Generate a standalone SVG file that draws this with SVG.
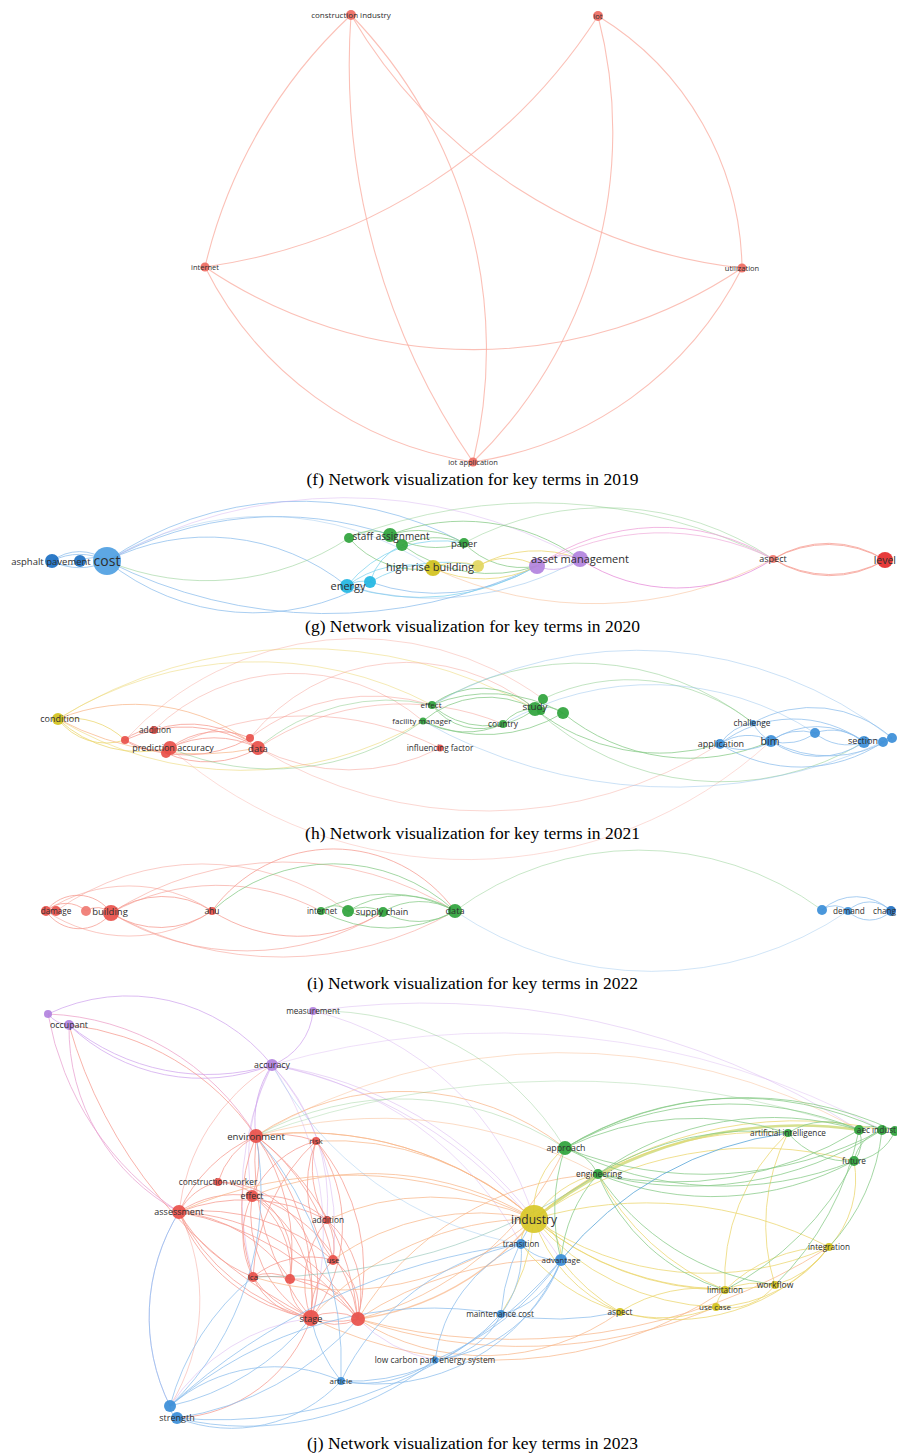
<svg xmlns="http://www.w3.org/2000/svg" width="897" height="1455" viewBox="0 0 897 1455">
<style>
.bg{fill:#fff}
.e{fill:none;stroke-width:1;stroke-opacity:.75}
.er{stroke:#f59a8f}.eg{stroke:#86c986}.eb{stroke:#8cbdec}.ey{stroke:#ebd66c}.ep{stroke:#d0a6ee}.ec{stroke:#7fd3ee}.eo{stroke:#f8b88c}.ef{stroke:#f9ab9f;stroke-width:1.1}
.nr{fill:#e8504a}.ng{fill:#2fa33c}.nb{fill:#3b8ed8}.ny{fill:#d3c21c}.np{fill:#b282de}.nc{fill:#22b6e2}.nd{fill:#1b6fc2}.nl{fill:#4f9fe2}.nf{fill:#ee6b62}
circle{fill-opacity:.92}
text{font-family:'Open Sans','DejaVu Sans',sans-serif;fill:#2e2e2e;text-anchor:middle}
.cap{font-family:'Liberation Serif','Times New Roman',serif;font-size:17.5px;fill:#000}
.end{text-anchor:end}
</style>
<rect class="bg" x="0" y="0" width="897" height="1455"/>

<!-- ============ PANEL F ============ -->
<g id="edges-f" class="e ef">
<path d="M205,267 A480,480 0 0 0 742,268"/>
<path d="M351,15 A500,500 0 0 0 205,267"/>
<path d="M351,15 A520,520 0 0 0 742,268"/>
<path d="M351,15 A480,480 0 0 1 473,462"/>
<path d="M351,15 A700,700 0 0 0 473,462"/>
<path d="M598,16 A560,560 0 0 1 205,267"/>
<path d="M598,16 A300,300 0 0 1 742,268"/>
<path d="M598,16 A460,460 0 0 1 473,462"/>
<path d="M205,267 A360,360 0 0 0 473,462"/>
<path d="M742,268 A360,360 0 0 1 473,462"/>
</g>
<g id="f-construction-industry"><circle class="nf" cx="351" cy="15" r="5"/><text x="351" y="18" font-size="8">construction industry</text></g>
<g id="f-iot"><circle class="nf" cx="598" cy="16" r="5"/><text x="598" y="19" font-size="7.5">iot</text></g>
<g id="f-internet"><circle class="nf" cx="205" cy="267" r="4.5"/><text x="205" y="270" font-size="7.5">internet</text></g>
<g id="f-utilization"><circle class="nf" cx="742" cy="268" r="4.5"/><text x="742" y="271" font-size="7.5">utilization</text></g>
<g id="f-iot-application"><circle class="nf" cx="473" cy="462" r="4.5"/><text x="473" y="465" font-size="7.5">iot application</text></g>
<text class="cap" x="472.5" y="484.5">(f) Network visualization for key terms in 2019</text>

<!-- ============ PANEL G ============ -->
<g id="edges-g" class="e">
<path class="eb" d="M52,561 A60,60 0 0 1 107,561"/>
<path class="eb" d="M52,561 A60,60 0 0 0 107,561"/>
<path class="eb" d="M52,561 A45,45 0 0 1 107,561"/>
<path class="eb" d="M80,561 A30,30 0 0 1 107,561"/>
<path class="eb" d="M52,561 A25,25 0 0 0 80,561"/>
<path class="eb" d="M107,561 A223,223 0 0 1 347,586"/>
<path class="eb" d="M107,561 A234,234 0 0 0 370,582"/>
<path class="eb" d="M107,561 A487,487 0 0 0 537,566"/>
<path class="eb" d="M107,561 A342,342 0 0 1 464,543"/>
<path class="eb" d="M107,561 A351,351 0 0 1 390,535"/>
<path class="ep" d="M107,561 A480,480 0 0 1 580,559" stroke-opacity=".4"/>
<path class="eb" d="M107,561 A300,300 0 0 1 433,568" stroke-opacity=".4"/>
<path class="eg" d="M107,561 A260,260 0 0 0 349,538" stroke-opacity=".5"/>
<path class="ec" d="M347,586 A100,100 0 0 1 433,568"/>
<path class="ec" d="M370,582 A60,60 0 0 1 402,545"/>
<path class="ec" d="M347,586 A120,120 0 0 1 464,543"/>
<path class="eb" d="M370,582 A200,200 0 0 0 537,566"/>
<path class="ec" d="M347,586 A236,236 0 0 0 537,566"/>
<path class="ec" d="M370,582 A150,150 0 0 1 478,566"/>
<path class="ec" d="M347,586 A30,30 0 0 1 370,582"/>
<path class="eb" d="M347,586 A300,300 0 0 0 580,559" stroke-opacity=".5"/>
<path class="eg" d="M349,538 A40,40 0 0 1 390,535"/>
<path class="eg" d="M390,535 A90,90 0 0 1 464,543"/>
<path class="eg" d="M390,535 A90,90 0 0 0 464,543"/>
<path class="eg" d="M402,545 A80,80 0 0 1 464,543"/>
<path class="eg" d="M402,545 A150,150 0 0 0 537,566"/>
<path class="eg" d="M349,538 A522,522 0 0 1 773,559" stroke-opacity=".45"/>
<path class="eg" d="M464,543 A80,80 0 0 0 537,566"/>
<path class="eg" d="M390,535 A200,200 0 0 1 580,559"/>
<path class="eg" d="M464,543 A300,300 0 0 1 773,559" stroke-opacity=".45"/>
<path class="eg" d="M349,538 A90,90 0 0 0 433,568"/>
<path class="ey" d="M433,568 A60,60 0 0 1 478,566"/>
<path class="ey" d="M478,566 A60,60 0 0 1 537,566"/>
<path class="eo" d="M433,568 A381,381 0 0 0 773,559" stroke-opacity=".5"/>
<path class="ey" d="M478,566 A120,120 0 0 1 580,559"/>
<path class="ey" d="M433,568 A120,120 0 0 0 537,566"/>
<path class="ep" d="M537,566 A40,40 0 0 1 580,559"/>
<path class="ep" d="M537,566 A40,40 0 0 0 580,559"/>
<path class="ep" d="M580,559 A175,175 0 0 0 773,559" style="stroke:#e58ad8"/>
<path class="ep" d="M537,566 A216,216 0 0 1 773,559" style="stroke:#eda0d8"/>
<path class="ep" d="M537,566 A250,250 0 0 1 773,559" style="stroke:#f0b0dc"/>
<path class="er" d="M773,559 A112,112 0 0 1 885,560"/>
<path class="er" d="M773,559 A105,105 0 0 1 885,560"/>
<path class="er" d="M773,559 A112,112 0 0 0 885,560"/>
<path class="er" d="M773,559 A105,105 0 0 0 885,560"/>
</g>
<g id="g-asphalt-pavement"><circle class="nd" cx="52" cy="561" r="7"/><circle class="nd" cx="80" cy="561" r="6"/><text x="51" y="564.5" font-size="9.5">asphalt pavement</text></g>
<g id="g-cost"><circle class="nl" cx="107" cy="561" r="14"/><text x="107" y="566" font-size="14">cost</text></g>
<g id="g-staff-assignment"><circle class="ng" cx="349" cy="538" r="5"/><circle class="ng" cx="390" cy="535" r="7"/><circle class="ng" cx="402" cy="545" r="6"/><text x="391" y="539.5" font-size="10">staff assignment</text></g>
<g id="g-paper"><circle class="ng" cx="464" cy="543" r="5"/><text x="464" y="546.5" font-size="9.5">paper</text></g>
<g id="g-high-rise-building"><circle class="ny" cx="433" cy="568" r="8"/><circle class="ny" cx="478" cy="566" r="6" style="fill:#e2d660"/><text x="430" y="571" font-size="11">high rise building</text></g>
<g id="g-energy"><circle class="nc" cx="347" cy="586" r="7"/><circle class="nc" cx="370" cy="582" r="6"/><text x="348" y="590" font-size="11">energy</text></g>
<g id="g-asset-management"><circle class="np" cx="537" cy="566" r="8"/><circle class="np" cx="580" cy="559" r="8"/><text x="580" y="563" font-size="11">asset management</text></g>
<g id="g-aspect"><circle class="nr" cx="773" cy="559" r="4" style="fill:#f07a70"/><text x="773" y="562" font-size="9">aspect</text></g>
<g id="g-level"><circle class="nr" cx="885" cy="560" r="8" style="fill:#e42a2a"/><text class="end" x="896" y="564" font-size="10.5">level</text></g>
<text class="cap" x="472.5" y="631.5">(g) Network visualization for key terms in 2020</text>

<!-- ============ PANEL H ============ -->
<g id="edges-h" class="e">
<path class="ey" d="M58,719 A60,60 0 0 0 125,740"/>
<path class="ey" d="M58,719 A80,80 0 0 1 125,740"/>
<path class="ey" d="M58,719 A120,120 0 0 0 170,748"/>
<path class="eo" d="M58,719 A200,200 0 0 1 258,748"/>
<path class="ey" d="M58,719 A468,468 0 0 1 535,709" stroke-opacity=".5"/>
<path class="ey" d="M58,719 A375,375 0 0 1 432,705" stroke-opacity=".5"/>
<path class="ey" d="M58,719 A356,356 0 0 0 423,721" stroke-opacity=".55"/>
<path class="eo" d="M58,719 A300,300 0 0 0 258,748"/>
<path class="er" d="M125,740 A40,40 0 0 1 154,730"/>
<path class="er" d="M125,740 A50,50 0 0 0 170,748"/>
<path class="er" d="M154,730 A110,110 0 0 1 258,748"/>
<path class="er" d="M170,748 A100,100 0 0 1 258,748"/>
<path class="er" d="M170,748 A80,80 0 0 1 250,738"/>
<path class="er" d="M166,753 A100,100 0 0 0 258,748"/>
<path class="er" d="M125,740 A140,140 0 0 1 258,748"/>
<path class="er" d="M125,740 A130,130 0 0 0 250,738"/>
<path class="er" d="M170,748 A300,300 0 0 1 440,748" stroke-opacity=".5"/>
<path class="er" d="M258,748 A200,200 0 0 0 440,748" stroke-opacity=".5"/>
<path class="er" d="M250,738 A200,200 0 0 1 432,705" stroke-opacity=".5"/>
<path class="er" d="M258,748 A260,260 0 0 1 503,724" stroke-opacity=".5"/>
<path class="er" d="M250,738 A200,200 0 0 1 535,709" stroke-opacity=".45"/>
<path class="er" d="M125,740 A316,316 0 0 1 543,699" stroke-opacity=".4"/>
<path class="er" d="M258,748 A443,443 0 0 0 720,744" stroke-opacity=".4"/>
<path class="er" d="M170,748 A450,450 0 0 0 771,741" stroke-opacity=".35"/>
<path class="er" d="M154,730 A200,200 0 0 1 423,721" stroke-opacity=".45"/>
<path class="eg" d="M432,705 A80,80 0 0 1 535,709"/>
<path class="eg" d="M432,705 A80,80 0 0 0 535,709"/>
<path class="eg" d="M423,721 A100,100 0 0 1 535,709"/>
<path class="eg" d="M423,721 A90,90 0 0 0 503,724"/>
<path class="eg" d="M503,724 A40,40 0 0 1 535,709"/>
<path class="eg" d="M535,709 A30,30 0 0 1 563,713"/>
<path class="eg" d="M432,705 A150,150 0 0 1 563,713"/>
<path class="eg" d="M423,721 A150,150 0 0 0 563,713"/>
<path class="eg" d="M535,709 A200,200 0 0 0 720,744"/>
<path class="eg" d="M563,713 A200,200 0 0 0 771,741"/>
<path class="eg" d="M535,709 A275,275 0 0 0 864,742" stroke-opacity=".5"/>
<path class="eg" d="M432,705 A281,281 0 0 1 753,723" stroke-opacity=".5"/>
<path class="eg" d="M258,748 A200,200 0 0 1 432,705" stroke-opacity=".5"/>
<path class="eg" d="M170,748 A260,260 0 0 0 423,721" stroke-opacity=".5"/>
<path class="eg" d="M543,699 A200,200 0 0 1 753,723" stroke-opacity=".5"/>
<path class="eg" d="M432,705 A60,60 0 0 0 503,724"/>
<path class="eb" d="M720,744 A50,50 0 0 1 753,723"/>
<path class="eb" d="M720,744 A50,50 0 0 1 771,741"/>
<path class="eb" d="M720,744 A50,50 0 0 0 771,741"/>
<path class="eb" d="M753,723 A40,40 0 0 0 771,741"/>
<path class="eb" d="M771,741 A50,50 0 0 1 815,733"/>
<path class="eb" d="M771,741 A50,50 0 0 0 815,733"/>
<path class="eb" d="M815,733 A50,50 0 0 1 864,742"/>
<path class="eb" d="M815,733 A50,50 0 0 0 864,742"/>
<path class="eb" d="M771,741 A80,80 0 0 1 864,742"/>
<path class="eb" d="M771,741 A80,80 0 0 0 864,742"/>
<path class="eb" d="M864,742 A20,20 0 0 1 883,742"/>
<path class="eb" d="M883,742 A10,10 0 0 1 892,738"/>
<path class="eb" d="M720,744 A150,150 0 0 0 883,742"/>
<path class="eb" d="M753,723 A120,120 0 0 1 892,738"/>
<path class="eb" d="M771,741 A120,120 0 0 0 892,738"/>
<path class="eb" d="M720,744 A120,120 0 0 1 864,742"/>
<path class="eb" d="M432,705 A413,413 0 0 1 892,738" stroke-opacity=".45"/>
<path class="eb" d="M423,721 A508,508 0 0 0 883,742" stroke-opacity=".45"/>
<path class="eb" d="M503,724 A300,300 0 0 1 815,733" stroke-opacity=".45"/>
</g>
<g id="h-condition"><circle class="ny" cx="58" cy="719" r="6"/><text x="60" y="722" font-size="9">condition</text></g>
<g id="h-addition"><circle class="nr" cx="154" cy="730" r="4"/><circle class="nr" cx="125" cy="740" r="4"/><text x="155" y="732.5" font-size="8.3">addition</text></g>
<g id="h-prediction-accuracy"><circle class="nr" cx="170" cy="748" r="7"/><circle class="nr" cx="166" cy="753" r="5"/><text x="173" y="751" font-size="9">prediction accuracy</text></g>
<g id="h-data"><circle class="nr" cx="250" cy="738" r="4"/><circle class="nr" cx="258" cy="748" r="7"/><text x="258" y="751.5" font-size="9.5">data</text></g>
<g id="h-effect"><circle class="ng" cx="432" cy="705" r="4"/><text x="431" y="707.5" font-size="8">effect</text></g>
<g id="h-facility-manager"><circle class="ng" cx="423" cy="721" r="3.5"/><text x="422" y="723.5" font-size="8">facility manager</text></g>
<g id="h-influencing-factor"><circle class="nr" cx="440" cy="748" r="3.5"/><text x="440" y="750.5" font-size="8.2">influencing factor</text></g>
<g id="h-country"><circle class="ng" cx="503" cy="724" r="4"/><text x="503" y="727" font-size="8.4">country</text></g>
<g id="h-study"><circle class="ng" cx="543" cy="699" r="5"/><circle class="ng" cx="535" cy="709" r="7"/><circle class="ng" cx="541" cy="711" r="4"/><text x="535" y="710" font-size="9.8">study</text></g>
<g id="h-node-g5"><circle class="ng" cx="563" cy="713" r="6"/></g>
<g id="h-challenge"><circle class="nb" cx="753" cy="723" r="3"/><text x="752" y="725.5" font-size="8.3">challenge</text></g>
<g id="h-application"><circle class="nb" cx="720" cy="744" r="5"/><text x="721" y="747" font-size="9">application</text></g>
<g id="h-bim"><circle class="nb" cx="771" cy="741" r="6"/><text x="770" y="744.5" font-size="10.5">bim</text></g>
<g id="h-node-b4"><circle class="nb" cx="815" cy="733" r="5"/></g>
<g id="h-section"><circle class="nb" cx="864" cy="742" r="6"/><circle class="nb" cx="883" cy="742" r="5"/><circle class="nb" cx="892" cy="738" r="5"/><text x="863" y="743.5" font-size="9">section</text></g>
<text class="cap" x="472.5" y="838.5">(h) Network visualization for key terms in 2021</text>

<!-- ============ PANEL I ============ -->
<g id="edges-i" class="e">
<path class="er" d="M46,911 A30,30 0 0 1 86,911"/>
<path class="er" d="M46,911 A40,40 0 0 1 111,913"/>
<path class="er" d="M46,911 A40,40 0 0 0 111,913"/>
<path class="er" d="M86,911 A20,20 0 0 1 111,913"/>
<path class="er" d="M111,913 A90,90 0 0 1 212,911"/>
<path class="er" d="M111,913 A90,90 0 0 0 212,911"/>
<path class="er" d="M111,913 A321,321 0 0 1 455,911" stroke-opacity=".55"/>
<path class="er" d="M111,913 A351,351 0 0 0 455,911" stroke-opacity=".55"/>
<path class="er" d="M111,913 A220,220 0 0 1 321,911" stroke-opacity=".6"/>
<path class="er" d="M111,913 A260,260 0 0 0 383,912" stroke-opacity=".6"/>
<path class="er" d="M212,911 A150,150 0 0 1 455,911"/>
<path class="er" d="M212,911 A160,160 0 0 0 383,912"/>
<path class="er" d="M46,911 A150,150 0 0 1 212,911" stroke-opacity=".55"/>
<path class="er" d="M46,911 A150,150 0 0 0 212,911" stroke-opacity=".55"/>
<path class="er" d="M56,911 A250,250 0 0 1 348,911" stroke-opacity=".5"/>
<path class="eg" d="M321,911 A20,20 0 0 1 348,911"/>
<path class="eg" d="M348,911 A40,40 0 0 1 383,912"/>
<path class="eg" d="M348,911 A40,40 0 0 0 383,912"/>
<path class="eg" d="M383,912 A70,70 0 0 1 455,911"/>
<path class="eg" d="M383,912 A70,70 0 0 0 455,911"/>
<path class="eg" d="M321,911 A140,140 0 0 1 455,911"/>
<path class="eg" d="M321,911 A140,140 0 0 0 455,911"/>
<path class="eg" d="M348,911 A100,100 0 0 1 455,911"/>
<path class="eg" d="M212,911 A180,180 0 0 1 455,911"/>
<path class="eg" d="M455,911 A309,309 0 0 1 822,910" stroke-opacity=".45"/>
<path class="eb" d="M455,911 A350,350 0 0 0 848,911" stroke-opacity=".4"/>
<path class="eb" d="M822,910 A20,20 0 0 1 848,911"/>
<path class="eb" d="M848,911 A30,30 0 0 1 891,911"/>
<path class="eb" d="M848,911 A30,30 0 0 0 891,911"/>
<path class="eb" d="M822,910 A50,50 0 0 1 891,911"/>
</g>
<g id="i-damage"><circle class="nr" cx="46" cy="911" r="5"/><circle class="nr" cx="56" cy="911" r="5"/><text x="56" y="914" font-size="8.2">damage</text></g>
<g id="i-building"><circle class="nr" cx="86" cy="911" r="5" style="fill:#f07a72"/><circle class="nr" cx="111" cy="913" r="8"/><text x="110" y="915" font-size="9.5">building</text></g>
<g id="i-ahu"><circle class="nr" cx="212" cy="911" r="4"/><text x="212" y="914" font-size="8.4">ahu</text></g>
<g id="i-internet"><circle class="ng" cx="321" cy="911" r="4"/><text x="322" y="914" font-size="8.1">internet</text></g>
<g id="i-supply-chain"><circle class="ng" cx="348" cy="911" r="6"/><circle class="ng" cx="383" cy="912" r="5"/><text x="382" y="915" font-size="9">supply chain</text></g>
<g id="i-data"><circle class="ng" cx="455" cy="911" r="7"/><text x="455" y="914" font-size="9.1">data</text></g>
<g id="i-node-b1"><circle class="nb" cx="822" cy="910" r="5"/></g>
<g id="i-demand"><circle class="nb" cx="848" cy="911" r="4"/><text x="849" y="914" font-size="8.2">demand</text></g>
<g id="i-change"><circle class="nb" cx="891" cy="911" r="5" style="fill:#1f6fc0"/><text class="end" x="896" y="914" font-size="8.2">chang</text></g>
<text class="cap" x="472.5" y="988.5">(i) Network visualization for key terms in 2022</text>

<!-- ============ PANEL J ============ -->
<g id="edges-j" class="e" stroke-opacity=".6">
<path class="ep" d="M48,1014 A185,185 0 0 1 272,1065"/>
<path class="ep" d="M69,1025 A192,192 0 0 0 272,1065"/>
<path class="ep" d="M69,1025 A220,220 0 0 0 272,1065"/>
<path class="ep" d="M48,1014 A30,30 0 0 0 69,1025"/>
<path class="ep" d="M48,1014 A255,255 0 0 1 256,1136" style="stroke:#eca0c8"/>
<path class="er" d="M69,1025 A260,260 0 0 1 256,1136"/>
<path class="ep" d="M69,1025 A209,209 0 0 0 179,1212" style="stroke:#e8a0d0"/>
<path class="er" d="M69,1025 A471,471 0 0 0 311,1318"/>
<path class="ep" d="M48,1014 A300,300 0 0 0 179,1212" style="stroke:#e8a0d0"/>
<path class="ep" d="M313,1011 A63,63 0 0 1 272,1065"/>
<path class="ep" d="M313,1011 A803,803 0 0 1 859,1130" stroke-opacity=".4"/>
<path class="ep" d="M313,1011 A305,305 0 0 1 534,1219" stroke-opacity=".4"/>
<path class="ep" d="M272,1065 A100,100 0 0 0 256,1136"/>
<path class="ep" d="M272,1065 A200,200 0 0 0 252,1196" stroke-opacity=".45"/>
<path class="ep" d="M272,1065 A200,200 0 0 1 327,1220" stroke-opacity=".45"/>
<path class="ep" d="M272,1065 A250,250 0 0 1 333,1260" stroke-opacity=".45"/>
<path class="ep" d="M272,1065 A300,300 0 0 0 253,1277" stroke-opacity=".45"/>
<path class="ep" d="M272,1065 A450,450 0 0 1 561,1260" stroke-opacity=".45"/>
<path class="ep" d="M272,1065 A810,810 0 0 1 882,1130" stroke-opacity=".35"/>
<path class="ep" d="M272,1065 A400,400 0 0 1 534,1219" stroke-opacity=".45"/>
<path class="ep" d="M272,1065 A300,300 0 0 1 311,1318" stroke-opacity=".4"/>
<path class="ep" d="M272,1065 A350,350 0 0 1 521,1244" stroke-opacity=".4"/>
<path class="er" d="M272,1065 A199,199 0 0 0 179,1212" stroke-opacity=".5"/>
<path class="er" d="M256,1136 A150,150 0 0 0 179,1212"/>
<path class="er" d="M256,1136 A80,80 0 0 0 218,1182"/>
<path class="er" d="M256,1136 A100,100 0 0 1 252,1196"/>
<path class="er" d="M256,1136 A250,250 0 0 0 311,1318"/>
<path class="er" d="M256,1136 A250,250 0 0 1 311,1318"/>
<path class="er" d="M256,1136 A200,200 0 0 0 253,1277"/>
<path class="er" d="M256,1136 A200,200 0 0 1 290,1279"/>
<path class="er" d="M256,1136 A200,200 0 0 1 333,1260"/>
<path class="er" d="M256,1136 A260,260 0 0 1 358,1319"/>
<path class="eo" d="M256,1136 A350,350 0 0 1 534,1219"/>
<path class="eo" d="M256,1136 A262,262 0 0 1 565,1148"/>
<path class="eo" d="M256,1136 A606,606 0 0 1 859,1130" stroke-opacity=".45"/>
<path class="eo" d="M256,1136 A450,450 0 0 1 598,1174" stroke-opacity=".5"/>
<path class="er" d="M256,1136 A120,120 0 0 1 316,1141"/>
<path class="er" d="M179,1212 A60,60 0 0 1 218,1182"/>
<path class="er" d="M179,1212 A100,100 0 0 1 252,1196"/>
<path class="er" d="M179,1212 A150,150 0 0 0 253,1277"/>
<path class="er" d="M179,1212 A150,150 0 0 1 290,1279"/>
<path class="er" d="M179,1212 A200,200 0 0 0 311,1318"/>
<path class="er" d="M179,1212 A170,170 0 0 0 311,1318"/>
<path class="er" d="M179,1212 A220,220 0 0 1 358,1319"/>
<path class="er" d="M179,1212 A200,200 0 0 1 333,1260"/>
<path class="er" d="M179,1212 A180,180 0 0 1 327,1220"/>
<path class="er" d="M179,1212 A200,200 0 0 1 170,1406" stroke-opacity=".45"/>
<path class="ep" d="M179,1212 A200,200 0 0 0 170,1406" stroke-opacity=".45"/>
<path class="er" d="M179,1212 A300,300 0 0 1 358,1319"/>
<path class="er" d="M316,1141 A100,100 0 0 0 327,1220"/>
<path class="er" d="M316,1141 A150,150 0 0 1 311,1318"/>
<path class="er" d="M316,1141 A120,120 0 0 0 333,1260"/>
<path class="eo" d="M316,1141 A300,300 0 0 1 534,1219"/>
<path class="er" d="M316,1141 A100,100 0 0 0 252,1196"/>
<path class="er" d="M316,1141 A200,200 0 0 0 253,1277"/>
<path class="er" d="M316,1141 A200,200 0 0 1 358,1319"/>
<path class="er" d="M252,1196 A120,120 0 0 1 311,1318"/>
<path class="er" d="M252,1196 A120,120 0 0 0 311,1318"/>
<path class="er" d="M252,1196 A90,90 0 0 1 290,1279"/>
<path class="er" d="M252,1196 A90,90 0 0 0 253,1277"/>
<path class="er" d="M252,1196 A100,100 0 0 1 327,1220"/>
<path class="eo" d="M252,1196 A320,320 0 0 1 534,1219"/>
<path class="er" d="M252,1196 A150,150 0 0 1 358,1319"/>
<path class="er" d="M218,1182 A100,100 0 0 1 311,1318"/>
<path class="er" d="M218,1182 A80,80 0 0 1 290,1279"/>
<path class="er" d="M327,1220 A60,60 0 0 1 333,1260"/>
<path class="er" d="M327,1220 A100,100 0 0 0 311,1318"/>
<path class="er" d="M327,1220 A100,100 0 0 1 358,1319"/>
<path class="eo" d="M327,1220 A250,250 0 0 1 534,1219"/>
<path class="er" d="M333,1260 A80,80 0 0 0 311,1318"/>
<path class="er" d="M333,1260 A60,60 0 0 1 358,1319"/>
<path class="er" d="M333,1260 A90,90 0 0 0 253,1277"/>
<path class="eo" d="M333,1260 A250,250 0 0 1 534,1219"/>
<path class="er" d="M253,1277 A40,40 0 0 1 290,1279"/>
<path class="er" d="M253,1277 A70,70 0 0 0 311,1318"/>
<path class="er" d="M253,1277 A100,100 0 0 0 358,1319"/>
<path class="er" d="M253,1277 A120,120 0 0 1 358,1319"/>
<path class="er" d="M290,1279 A40,40 0 0 0 311,1318"/>
<path class="er" d="M290,1279 A70,70 0 0 1 358,1319"/>
<path class="er" d="M311,1318 A50,50 0 0 1 358,1319"/>
<path class="er" d="M311,1318 A50,50 0 0 0 358,1319"/>
<path class="er" d="M311,1318 A150,150 0 0 1 177,1418"/>
<path class="ep" d="M311,1318 A200,200 0 0 0 170,1406" stroke-opacity=".45"/>
<path class="eo" d="M311,1318 A417,417 0 0 0 725,1290"/>
<path class="eo" d="M311,1318 A300,300 0 0 1 534,1219"/>
<path class="eo" d="M358,1319 A234,234 0 0 0 620,1312"/>
<path class="eo" d="M358,1319 A265,265 0 0 0 534,1219" stroke-width="1.4"/>
<path class="eo" d="M358,1319 A591,591 0 0 0 829,1247"/>
<path class="eo" d="M358,1319 A314,314 0 0 0 565,1148"/>
<path class="ep" d="M358,1319 A150,150 0 0 0 435,1360" stroke-opacity=".45"/>
<path class="eo" d="M358,1319 A350,350 0 0 1 561,1260"/>
<path class="eo" d="M358,1319 A500,500 0 0 0 716,1307"/>
<path class="eo" d="M358,1319 A300,300 0 0 1 598,1174"/>
<path class="ey" d="M534,1219 A80,80 0 0 1 565,1148"/>
<path class="ey" d="M534,1219 A100,100 0 0 1 598,1174"/>
<path class="ey" d="M534,1219 A421,421 0 0 1 859,1130" stroke-width="2.5" style="stroke:#c8d66a"/>
<path class="ey" d="M534,1219 A400,400 0 0 1 882,1130"/>
<path class="ey" d="M534,1219 A380,380 0 0 1 854,1161"/>
<path class="ey" d="M534,1219 A350,350 0 0 1 788,1133"/>
<path class="ey" d="M534,1219 A400,400 0 0 1 829,1247"/>
<path class="ey" d="M534,1219 A300,300 0 0 0 725,1290"/>
<path class="ey" d="M534,1219 A300,300 0 0 0 775,1285"/>
<path class="ey" d="M534,1219 A250,250 0 0 0 716,1307"/>
<path class="ey" d="M534,1219 A150,150 0 0 0 620,1312"/>
<path class="ey" d="M534,1219 A30,30 0 0 0 521,1244"/>
<path class="ey" d="M534,1219 A40,40 0 0 1 561,1260"/>
<path class="eo" d="M534,1219 A411,411 0 0 0 179,1212"/>
<path class="eo" d="M534,1219 A300,300 0 0 1 253,1277"/>
<path class="eo" d="M534,1219 A350,350 0 0 0 256,1136"/>
<path class="ey" d="M534,1219 A200,200 0 0 1 501,1314"/>
<path class="ey" d="M534,1219 A300,300 0 0 0 829,1247"/>
<path class="ey" d="M620,1312 A150,150 0 0 1 725,1290"/>
<path class="ey" d="M620,1312 A150,150 0 0 0 716,1307"/>
<path class="ey" d="M620,1312 A200,200 0 0 0 829,1247"/>
<path class="ey" d="M716,1307 A30,30 0 0 1 725,1290"/>
<path class="ey" d="M716,1307 A60,60 0 0 0 775,1285"/>
<path class="ey" d="M725,1290 A80,80 0 0 1 775,1285"/>
<path class="ey" d="M775,1285 A100,100 0 0 0 829,1247"/>
<path class="ey" d="M725,1290 A150,150 0 0 1 829,1247"/>
<path class="ey" d="M716,1307 A150,150 0 0 0 829,1247"/>
<path class="ey" d="M829,1247 A100,100 0 0 0 854,1161"/>
<path class="ey" d="M775,1285 A200,200 0 0 1 788,1133"/>
<path class="ey" d="M725,1290 A200,200 0 0 1 788,1133"/>
<path class="ey" d="M620,1312 A200,200 0 0 1 561,1260"/>
<path class="ey" d="M620,1312 A200,200 0 0 1 521,1244"/>
<path class="ey" d="M725,1290 A250,250 0 0 1 598,1174"/>
<path class="eg" d="M565,1148 A50,50 0 0 1 598,1174"/>
<path class="eg" d="M565,1148 A300,300 0 0 1 788,1133"/>
<path class="eg" d="M565,1148 A332,332 0 0 1 882,1130"/>
<path class="eg" d="M565,1148 A332,332 0 0 1 859,1130"/>
<path class="eg" d="M565,1148 A350,350 0 0 1 895,1131"/>
<path class="eg" d="M565,1148 A350,350 0 0 0 854,1161"/>
<path class="eg" d="M565,1148 A380,380 0 0 0 882,1130"/>
<path class="eg" d="M598,1174 A356,356 0 0 0 882,1130"/>
<path class="eg" d="M598,1174 A356,356 0 0 0 859,1130"/>
<path class="eg" d="M598,1174 A300,300 0 0 1 859,1130"/>
<path class="eg" d="M598,1174 A300,300 0 0 0 854,1161"/>
<path class="eg" d="M598,1174 A300,300 0 0 1 788,1133"/>
<path class="eg" d="M788,1133 A70,70 0 0 1 859,1130"/>
<path class="eg" d="M788,1133 A80,80 0 0 0 854,1161"/>
<path class="eg" d="M854,1161 A30,30 0 0 0 859,1130"/>
<path class="eg" d="M854,1161 A40,40 0 0 1 882,1130"/>
<path class="eg" d="M854,1161 A50,50 0 0 0 895,1131"/>
<path class="eg" d="M859,1130 A20,20 0 0 1 882,1130"/>
<path class="eg" d="M882,1130 A10,10 0 0 1 895,1131"/>
<path class="eg" d="M565,1148 A287,287 0 0 0 313,1011" stroke-opacity=".4"/>
<path class="eg" d="M565,1148 A300,300 0 0 0 256,1136" stroke-opacity=".4"/>
<path class="eg" d="M598,1174 A600,600 0 0 1 253,1277" style="stroke:#7ab8a8" stroke-opacity=".5"/>
<path class="eg" d="M598,1174 A200,200 0 0 0 725,1290"/>
<path class="eg" d="M598,1174 A250,250 0 0 0 775,1285"/>
<path class="eg" d="M565,1148 A200,200 0 0 0 561,1260"/>
<path class="eg" d="M598,1174 A150,150 0 0 0 561,1260"/>
<path class="eg" d="M854,1161 A300,300 0 0 1 725,1290"/>
<path class="eg" d="M859,1130 A300,300 0 0 1 775,1285"/>
<path class="eg" d="M882,1130 A200,200 0 0 1 829,1247"/>
<path class="eg" d="M859,1130 A900,900 0 0 0 256,1136" stroke-opacity=".35"/>
<path class="eb" d="M521,1244 A50,50 0 0 0 561,1260"/>
<path class="eb" d="M521,1244 A100,100 0 0 1 501,1314"/>
<path class="eb" d="M561,1260 A80,80 0 0 1 501,1314"/>
<path class="eb" d="M561,1260 A150,150 0 0 1 435,1360"/>
<path class="eb" d="M521,1244 A150,150 0 0 0 435,1360"/>
<path class="eb" d="M501,1314 A80,80 0 0 1 435,1360"/>
<path class="eb" d="M501,1314 A200,200 0 0 1 341,1381"/>
<path class="eb" d="M435,1360 A120,120 0 0 1 341,1381"/>
<path class="eb" d="M341,1381 A160,160 0 0 0 170,1406"/>
<path class="eb" d="M341,1381 A150,150 0 0 1 177,1418"/>
<path class="eb" d="M170,1406 A15,15 0 0 0 177,1418"/>
<path class="eb" d="M170,1406 A636,636 0 0 1 521,1244"/>
<path class="eb" d="M177,1418 A449,449 0 0 0 561,1260"/>
<path class="eb" d="M177,1418 A300,300 0 0 0 435,1360"/>
<path class="eb" d="M170,1406 A200,200 0 0 1 179,1212"/>
<path class="eb" d="M170,1406 A300,300 0 0 0 256,1136"/>
<path class="eb" d="M170,1406 A250,250 0 0 0 311,1318"/>
<path class="eb" d="M170,1406 A250,250 0 0 1 253,1277"/>
<path class="eb" d="M177,1418 A300,300 0 0 0 358,1319"/>
<path class="eb" d="M341,1381 A200,200 0 0 0 561,1260"/>
<path class="eb" d="M341,1381 A250,250 0 0 1 521,1244"/>
<path class="eb" d="M341,1381 A350,350 0 0 0 256,1136"/>
<path class="eb" d="M341,1381 A150,150 0 0 1 311,1318"/>
<path class="eb" d="M561,1260 A350,350 0 0 1 788,1133" style="stroke:#5aa6d8" stroke-opacity=".8"/>
<path class="eb" d="M501,1314 A200,200 0 0 1 534,1219"/>
<path class="eb" d="M521,1244 A350,350 0 0 1 272,1065" stroke-opacity=".4"/>
<path class="eb" d="M501,1314 A300,300 0 0 0 620,1312"/>
<path class="eb" d="M170,1406 A400,400 0 0 1 501,1314"/>
<path class="eb" d="M435,1360 A300,300 0 0 0 561,1260"/>
</g>
<g id="j-node-p0"><circle class="np" cx="48" cy="1014" r="4"/></g>
<g id="j-occupant"><circle class="np" cx="69" cy="1025" r="5"/><text x="69" y="1028" font-size="8.8">occupant</text></g>
<g id="j-measurement"><circle class="np" cx="313" cy="1011" r="4"/><text x="313" y="1014" font-size="8.2">measurement</text></g>
<g id="j-accuracy"><circle class="np" cx="272" cy="1065" r="6"/><text x="272" y="1068" font-size="8.8">accuracy</text></g>
<g id="j-environment"><circle class="nr" cx="256" cy="1136" r="7"/><text x="256" y="1139.5" font-size="9.6">environment</text></g>
<g id="j-risk"><circle class="nr" cx="316" cy="1141" r="4"/><text x="316" y="1144" font-size="8">risk</text></g>
<g id="j-construction-worker"><circle class="nr" cx="218" cy="1182" r="4"/><text x="218" y="1185" font-size="8.4">construction worker</text></g>
<g id="j-effect"><circle class="nr" cx="252" cy="1196" r="6"/><text x="252" y="1199" font-size="8.7">effect</text></g>
<g id="j-assessment"><circle class="nr" cx="179" cy="1212" r="7"/><text x="179" y="1215" font-size="9">assessment</text></g>
<g id="j-addition"><circle class="nr" cx="327" cy="1220" r="4"/><text x="328" y="1223" font-size="8.3">addition</text></g>
<g id="j-use"><circle class="nr" cx="333" cy="1260" r="5"/><text x="333" y="1263" font-size="8">use</text></g>
<g id="j-lca"><circle class="nr" cx="253" cy="1277" r="5"/><text x="253" y="1280" font-size="8">lca</text></g>
<g id="j-node-ra"><circle class="nr" cx="290" cy="1279" r="5"/></g>
<g id="j-stage"><circle class="nr" cx="311" cy="1318" r="8"/><text x="311" y="1321.5" font-size="9.2">stage</text></g>
<g id="j-node-rb"><circle class="nr" cx="358" cy="1319" r="7"/></g>
<g id="j-industry"><circle class="ny" cx="534" cy="1219" r="14" style="fill:#d8c828"/><text x="534" y="1224" font-size="12">industry</text></g>
<g id="j-approach"><circle class="ng" cx="565" cy="1148" r="7"/><text x="566" y="1151" font-size="8.8">approach</text></g>
<g id="j-engineering"><circle class="ng" cx="598" cy="1174" r="5"/><text x="599" y="1177" font-size="8.3">engineering</text></g>
<g id="j-artificial-intelligence"><circle class="ng" cx="788" cy="1133" r="4"/><text x="788" y="1136" font-size="8.2">artificial intelligence</text></g>
<g id="j-aec-industry"><circle class="ng" cx="859" cy="1130" r="5"/><circle class="ng" cx="882" cy="1130" r="5"/><circle class="ng" cx="895" cy="1131" r="5"/><text class="end" x="896" y="1133" font-size="8.2">aec indust</text></g>
<g id="j-future"><circle class="ng" cx="854" cy="1161" r="5"/><text x="854" y="1164" font-size="8.3">future</text></g>
<g id="j-transition"><circle class="nb" cx="521" cy="1244" r="5"/><text x="521" y="1247" font-size="8.2">transition</text></g>
<g id="j-advantage"><circle class="nb" cx="561" cy="1260" r="6"/><text x="561" y="1263" font-size="8">advantage</text></g>
<g id="j-integration"><circle class="ny" cx="829" cy="1247" r="4"/><text x="829" y="1250" font-size="8.2">integration</text></g>
<g id="j-limitation"><circle class="ny" cx="725" cy="1290" r="4"/><text x="725" y="1293" font-size="8.1">limitation</text></g>
<g id="j-workflow"><circle class="ny" cx="775" cy="1285" r="4"/><text x="775" y="1288" font-size="8.6">workflow</text></g>
<g id="j-use-case"><circle class="ny" cx="716" cy="1307" r="4"/><text x="715" y="1310" font-size="8">use case</text></g>
<g id="j-aspect"><circle class="ny" cx="620" cy="1312" r="4"/><text x="620" y="1315" font-size="8.2">aspect</text></g>
<g id="j-maintenance-cost"><circle class="nb" cx="501" cy="1314" r="4"/><text x="500" y="1317" font-size="8.2">maintenance cost</text></g>
<g id="j-low-carbon-park-energy-system"><circle class="nb" cx="435" cy="1360" r="3.5"/><text x="435" y="1363" font-size="8.3">low carbon park energy system</text></g>
<g id="j-article"><circle class="nb" cx="341" cy="1381" r="4"/><text x="341" y="1384" font-size="8">article</text></g>
<g id="j-strength"><circle class="nb" cx="170" cy="1406" r="6"/><circle class="nb" cx="177" cy="1418" r="6"/><text x="177" y="1421" font-size="9">strength</text></g>
<text class="cap" x="472.5" y="1448.5">(j) Network visualization for key terms in 2023</text>
</svg>
